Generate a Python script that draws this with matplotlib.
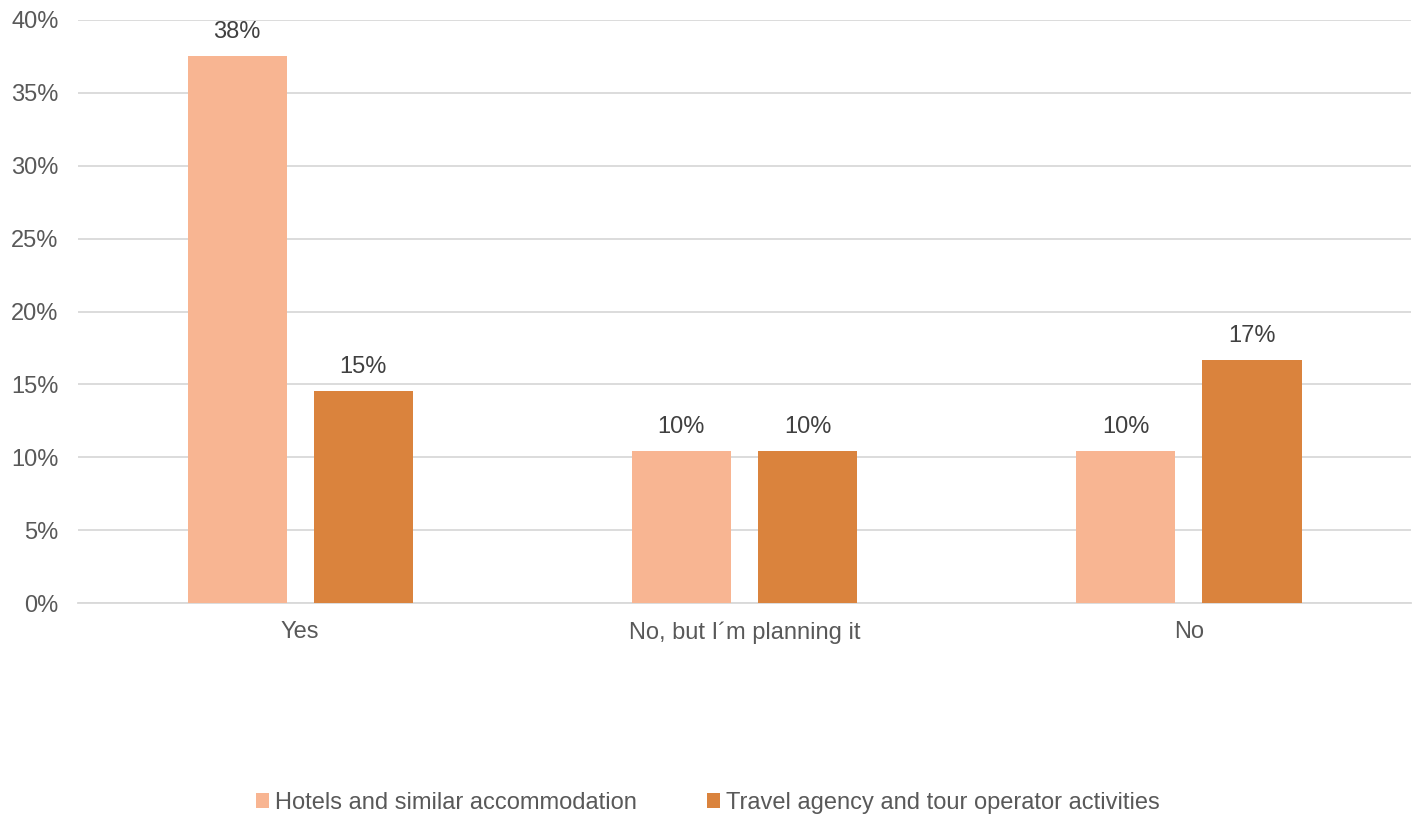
import numpy as np
import matplotlib
matplotlib.use("Agg")
import matplotlib.pyplot as plt
from matplotlib.ticker import PercentFormatter

categories = ["Yes", "No, but I´m planning it", "No"]
hotels = [37.5, 10.42, 10.42]
travel = [14.58, 10.42, 16.67]
series_names = ["Hotels and similar accommodation", "Travel agency and tour operator activities"]

plt.rcParams["font.family"] = ["Liberation Sans", "DejaVu Sans"]
text_color = "#595959"
grid_color = "#D9D9D9"

fig = plt.figure(figsize=(14.16, 8.16), dpi=100)
ax = fig.add_axes([0.0551, 0.261, 0.9414, 0.7145])

x = np.arange(len(categories))
w = 0.223
off = 0.142
b1 = ax.bar(x - off, hotels, w, color="#F8B592", label=series_names[0], zorder=3)
b2 = ax.bar(x + off, travel, w, color="#DA833D", label=series_names[1], zorder=3)

for bars in (b1, b2):
    for r in bars:
        ax.annotate("%d%%" % round(r.get_height()), (r.get_x() + r.get_width() / 2, r.get_height()),
                    xytext=(0, 13), textcoords="offset pixels", ha="center", va="bottom",
                    fontsize=17, color="#404040")

ax.set_xlim(-0.5, 2.5)
ax.set_ylim(0, 40)
ax.set_yticks(np.arange(0, 41, 5))
ax.yaxis.set_major_formatter(PercentFormatter(decimals=0))
ax.set_xticks(x)
ax.set_xticklabels(categories)
ax.tick_params(axis="both", length=0, labelsize=17, colors=text_color)
ax.tick_params(axis="x", pad=13)
ax.tick_params(axis="y", pad=14)
ax.grid(axis="y", color=grid_color, linewidth=1.3, zorder=0)
for s in ["top", "right", "left"]:
    ax.spines[s].set_visible(False)
ax.spines["bottom"].set_color(grid_color)
ax.spines["bottom"].set_linewidth(1.3)

leg = fig.legend(loc="center", bbox_to_anchor=(0.5, 0.016), ncol=2, frameon=False,
                 fontsize=17, handlelength=0.55, handleheight=0.55, handletextpad=0.25,
                 columnspacing=3.0)
for t in leg.get_texts():
    t.set_color(text_color)

fig.savefig("out.png", dpi=100)
